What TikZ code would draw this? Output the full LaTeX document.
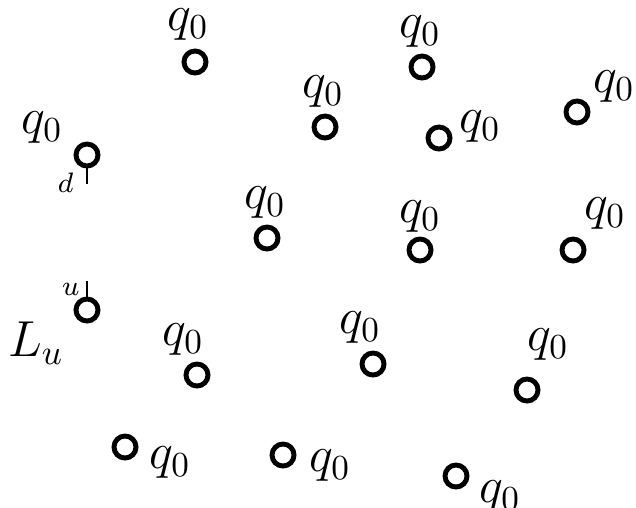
\documentclass[tikz,border=0pt]{standalone}
\usetikzlibrary{positioning}
\tikzset{
  state/.style={circle,draw,line width=1.4pt,minimum size=2.2mm,inner sep=0pt},
  lbl/.style={font=\Large,inner sep=0pt},
  leaflbl/.style={font=\footnotesize,inner sep=0pt,anchor=east},
  leaf/.style={semithick},
}
\begin{document}
\begin{tikzpicture}
  \useasboundingbox (0,0) rectangle (6.36,5.07);
  % states
  \node[state] (s1) at (1.95,4.45) {};
  \node[state] (s2) at (4.22,4.40) {};
  \node[state] (s3) at (3.25,3.80) {};
  \node[state] (s4) at (4.39,3.69) {};
  \node[state] (s5) at (5.77,3.95) {};
  \node[state] (s6) at (0.87,3.52) {};
  \node[state] (s7) at (2.67,2.69) {};
  \node[state] (s8) at (4.20,2.57) {};
  \node[state] (s9) at (5.73,2.57) {};
  \node[state] (s10) at (0.87,1.97) {};
  \node[state] (s11) at (1.97,1.32) {};
  \node[state] (s12) at (3.73,1.43) {};
  \node[state] (s13) at (5.27,1.17) {};
  \node[state] (s14) at (1.25,0.60) {};
  \node[state] (s15) at (2.83,0.52) {};
  \node[state] (s16) at (4.56,0.31) {};
  % labels
  \node[lbl] (l1) at ([shift={(-0.07,0.37)}]s1) {$q_0$};
  \node[lbl] (l2) at ([shift={(-0.02,0.35)}]s2) {$q_0$};
  \node[lbl] (l3) at ([shift={(-0.02,0.35)}]s3) {$q_0$};
  \node[lbl] (l4) at ([shift={(0.41,0.11)}]s4) {$q_0$};
  \node[lbl] (l5) at ([shift={(0.37,0.25)}]s5) {$q_0$};
  \node[lbl] (l6) at ([shift={(-0.45,0.27)}]s6) {$q_0$};
  \node[lbl] (l7) at ([shift={(-0.02,0.35)}]s7) {$q_0$};
  \node[lbl] (l8) at ([shift={(0,0.33)}]s8) {$q_0$};
  \node[lbl] (l9) at ([shift={(0.32,0.36)}]s9) {$q_0$};
  \node[lbl] (l11) at ([shift={(-0.14,0.35)}]s11) {$q_0$};
  \node[lbl] (l12) at ([shift={(-0.13,0.36)}]s12) {$q_0$};
  \node[lbl] (l13) at ([shift={(0.21,0.45)}]s13) {$q_0$};
  \node[lbl] (l14) at ([shift={(0.45,-0.16)}]s14) {$q_0$};
  \node[lbl] (l15) at ([shift={(0.47,-0.11)}]s15) {$q_0$};
  \node[lbl] (l16) at ([shift={(0.44,-0.21)}]s16) {$q_0$};
  \node[lbl] (lu) at (0.36,1.64) {$L_u$};
  % leaves
  \coordinate[below=0.16cm of s6] (d6);
  \coordinate[above=0.16cm of s10] (u10);
  \draw[leaf] (s6) -- (d6);
  \draw[leaf] (s10) -- (u10);
  \node[leaflbl] (ld6) at ([shift={(-0.13,0.02)}]d6) {$d$};
  \node[leaflbl] (lu10) at ([shift={(-0.07,-0.09)}]u10) {$u$};
\end{tikzpicture}
\end{document}
